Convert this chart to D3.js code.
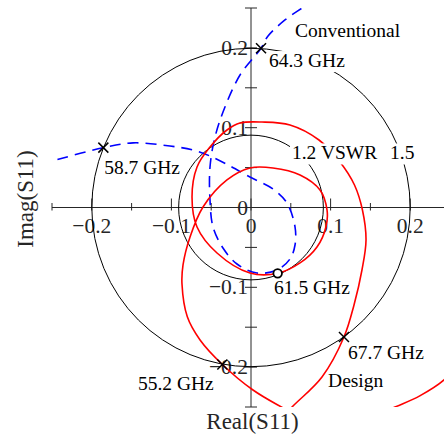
<!DOCTYPE html>
<html>
<head>
<meta charset="utf-8">
<script src="https://cdn.jsdelivr.net/npm/d3@7"></script>
<style>
  html, body { margin: 0; padding: 0; background: #fff; }
  svg { display: block; }
</style>
</head>
<body>
<svg id="chart" width="444" height="434"></svg>
<script>
// Reflection coefficient S11 on the complex plane: two designs and VSWR reference circles.

// Axis ticks (every 0.05) and labelled positions (every 0.1)
const tickValues = [-0.25, -0.2, -0.15, -0.1, -0.05, 0, 0.05, 0.1, 0.15, 0.2, 0.25];
const labelValues = [-0.2, -0.1, 0, 0.1, 0.2];
const labelTexts = ["\u22120.2", "\u22120.1", "0", "0.1", "0.2"];

// VSWR reference circles
const vswrValues = [1.2, 1.5];

// "Design" S11 trace [Re, Im], in order of increasing frequency
const designRe = [0.275, 0.2425, 0.212, 0.181, 0.137, 0.112, 0.074, 0.040, 0.0025, -0.036, -0.064, -0.080,
  -0.0867, -0.0854, -0.0766, -0.0603, -0.0302, -0.0013, 0.0276, 0.0616, 0.0867, 0.0955, 0.0942, 0.0829,
  0.0616, 0.0335, -0.0013, -0.0427, -0.0678, -0.0741, -0.0678, -0.0515, -0.0302, -0.0138, 0.0138, 0.049,
  0.0854, 0.1118, 0.1300, 0.1400, 0.1445, 0.1394, 0.1294, 0.1168, 0.0892, 0.0515, 0.0264];
const designIm = [-0.179, -0.216, -0.236, -0.250, -0.269, -0.275, -0.269, -0.251, -0.2287, -0.1967, -0.166, -0.137,
  -0.0959, -0.072, -0.037, 0.0006, 0.0345, 0.0495, 0.0495, 0.0407, 0.0219, -0.0031, -0.0244, -0.0495,
  -0.0695, -0.0825, -0.0821, -0.057, -0.0244, 0.0132, 0.0508, 0.0758, 0.0971, 0.1059, 0.1071, 0.1034,
  0.0846, 0.0570, 0.0282, -0.0031, -0.0407, -0.0783, -0.1222, -0.1623, -0.2124, -0.2500, -0.2763];

// "Conventional" S11 trace [Re, Im]
const convRe = [-0.265, -0.25, -0.1855, -0.148, -0.1018, -0.0729, -0.0515, -0.0264, -0.0013, 0.0276, 0.0452,
  0.0553, 0.0553, 0.049, 0.0327, 0.0075, -0.0176, -0.0352, -0.0477, -0.0515, -0.0515, -0.0452, -0.0327,
  -0.0138, 0.0126, 0.0214, 0.0427, 0.0678, 0.08];
const convIm = [0.0545, 0.0583, 0.075, 0.081, 0.077, 0.072, 0.0645, 0.052, 0.0382, 0.0232, 0.0056,
  -0.0244, -0.047, -0.0645, -0.0783, -0.0821, -0.0708, -0.0508, -0.0244, 0.0094, 0.0508, 0.0883, 0.1259,
  0.166, 0.1996, 0.2149, 0.235, 0.2525, 0.262];

// Band-edge markers
const crossRe = [-0.1855, 0.0126, 0.1168, -0.036];
const crossIm = [0.075, 0.1996, -0.1623, -0.1967];
const ringRe = [0.0335];
const ringIm = [-0.0825];

// Annotations: text with anchor in data units
const noteText = ["58.7 GHz", "64.3 GHz", "Conventional", "1.2 VSWR", "1.5", "61.5 GHz", "67.7 GHz", "Design", "55.2 GHz"];
const noteRe = [-0.1845, 0.0226, 0.0553, 0.0515, 0.1747, 0.0289, 0.1219, 0.0968, -0.1420];
const noteIm = [0.0420, 0.1760, 0.2136, 0.0602, 0.0602, -0.1084, -0.1898, -0.2249, -0.2287];
const noteMask = [false, true, false, true, true, false, false, false, false];

const svg = d3.select("#chart");
const x = d3.scaleLinear().domain([-0.25, 0.25]).range([52, 450]);
const y = d3.scaleLinear().domain([-0.25, 0.25]).range([407, 8]);
const axisColor = "#262626";
const serif = "'Liberation Serif', 'Times New Roman', serif";

svg.append("defs").append("clipPath").attr("id", "plotArea")
  .append("rect")
  .attr("x", x(-0.25)).attr("y", y(0.25))
  .attr("width", x(0.25) - x(-0.25)).attr("height", y(-0.25) - y(0.25));

// Axes through the origin
const axes = svg.append("g").attr("stroke", axisColor).attr("stroke-width", 1);
axes.append("line").attr("x1", x(-0.25)).attr("x2", x(0.25)).attr("y1", y(0)).attr("y2", y(0));
axes.append("line").attr("x1", x(0)).attr("x2", x(0)).attr("y1", y(0.25)).attr("y2", y(-0.25));

const isMajor = v => labelValues.some(l => Math.abs(l - v) < 1e-9);
tickValues.forEach(v => {
  const up = isMajor(v) ? 9 : 4.5;
  axes.append("line").attr("x1", x(v)).attr("x2", x(v))
    .attr("y1", y(0) - up).attr("y2", y(0) + 3);
  axes.append("line").attr("x1", x(0) - 6).attr("x2", x(0) + 6)
    .attr("y1", y(v)).attr("y2", y(v));
});

// Tick labels
const tl = svg.append("g").attr("font-family", serif).attr("font-size", 21.5).attr("fill", axisColor);
labelValues.forEach((v, i) => {
  tl.append("text").attr("x", x(v)).attr("y", y(0) + 25.5).attr("text-anchor", "middle").text(labelTexts[i]);
  tl.append("text").attr("x", x(0) - 3).attr("y", y(v) + 7).attr("text-anchor", "end").text(labelTexts[i]);
});

// Axis titles
svg.append("text").attr("x", x(0) + 1.5).attr("y", 429)
  .attr("text-anchor", "middle").attr("font-family", serif).attr("font-size", 23).attr("fill", axisColor)
  .text("Real(S11)");
svg.append("text").attr("transform", "translate(33,199) rotate(-90)")
  .attr("text-anchor", "middle").attr("font-family", serif).attr("font-size", 23).attr("fill", axisColor)
  .text("Imag(S11)");

// VSWR circles |Γ| = (s-1)/(s+1)
const plot = svg.append("g").attr("clip-path", "url(#plotArea)");
vswrValues.forEach(s => {
  const g = (s - 1) / (s + 1);
  plot.append("circle").attr("cx", x(0)).attr("cy", y(0)).attr("r", x(g) - x(0))
    .attr("fill", "none").attr("stroke", "#000").attr("stroke-width", 1);
});

const line = d3.line().x(d => x(d[0])).y(d => y(d[1])).curve(d3.curveCatmullRom.alpha(0.5));

plot.append("path").attr("d", line(convRe.map((r, i) => [r, convIm[i]])))
  .attr("fill", "none").attr("stroke", "#0000ff").attr("stroke-width", 1.6)
  .attr("stroke-dasharray", "11,7");

plot.append("path").attr("d", line(designRe.map((r, i) => [r, designIm[i]])))
  .attr("fill", "none").attr("stroke", "#ff0000").attr("stroke-width", 1.6);

// Markers
crossRe.forEach((r, i) => {
  const cx = x(r), cy = y(crossIm[i]);
  svg.append("path").attr("d", `M${cx - 5},${cy - 5}L${cx + 5},${cy + 5}M${cx - 5},${cy + 5}L${cx + 5},${cy - 5}`)
    .attr("stroke", "#000").attr("stroke-width", 1.5).attr("fill", "none");
});
ringRe.forEach((r, i) => {
  svg.append("circle").attr("cx", x(r)).attr("cy", y(ringIm[i])).attr("r", 4.3)
    .attr("fill", "#fff").attr("stroke", "#000").attr("stroke-width", 1.8);
});

// Annotations
const notes = svg.append("g").attr("font-family", serif).attr("font-size", 19.5).attr("fill", "#000");
noteText.forEach((t, i) => {
  const tx = x(noteRe[i]), ty = y(noteIm[i]);
  const txt = notes.append("text").attr("x", tx).attr("y", ty).text(t);
  if (noteMask[i]) {
    const b = txt.node().getBBox();
    notes.insert("rect", () => txt.node())
      .attr("x", b.x - 2).attr("y", b.y + 1).attr("width", b.width + 4).attr("height", b.height)
      .attr("fill", "#fff");
  }
});
</script>
</body>
</html>
